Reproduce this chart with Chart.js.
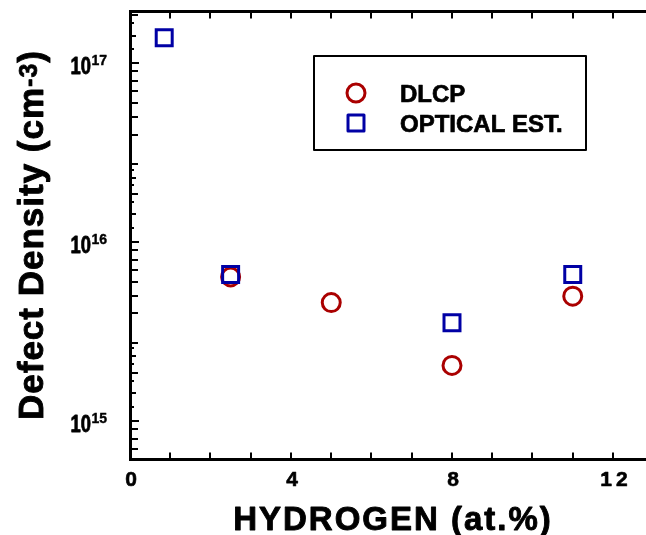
<!DOCTYPE html>
<html>
<head>
<meta charset="utf-8">
<script src="https://cdn.jsdelivr.net/npm/chart.js@4"></script>
<style>
  html, body { margin: 0; padding: 0; background: #fff; overflow: hidden; }
  canvas { display: block; }
</style>
</head>
<body>
<canvas id="defectChart" width="646" height="535"></canvas>
<script>
// values
const dlcpHydrogen = [2.5, 5.0, 8.0, 11.0];
const dlcpDensity = [6.4e15, 4.6e15, 2.05e15, 5.0e15];
const opticalHydrogen = [0.85, 2.5, 8.0, 11.0];
const opticalDensity = [1.39e17, 6.6e15, 3.55e15, 6.6e15];

const xTickLabels = [0, 4, 8, 12];
const yDecades = [15, 16, 17];
// minor tick multipliers inside each decade, as drawn in the original
const yMinorSteps = [1.2, 1.43, 1.67, 1.85, 2.1, 2.3, 2.55, 2.75, 4, 5, 6, 7, 8, 9];

const xMin = 0, xMax = 12.82;
const yMin = 6.15e14, yMax = 1.96e17;

const FONT = '"Liberation Sans", Arial, Helvetica, sans-serif';
const RED = 'rgb(170, 0, 0)';
const BLUE = 'rgb(0, 0, 165)';

function toPoints(xs, ys) {
  return xs.map((x, i) => ({ x: x, y: ys[i] }));
}

// tick length by position in yMinorSteps (short / medium / long)
function minorLength(i) {
  if (i >= 8) return 6;
  return [2, 4, 2, 6, 2, 4, 2, 6][i];
}

// bold text with a thin outline so it reads as heavy as the original
function heavyText(ctx, text, x, y, weight) {
  ctx.fillText(text, x, y);
  if (weight) {
    ctx.lineWidth = weight;
    ctx.strokeStyle = ctx.fillStyle;
    ctx.lineJoin = 'round';
    ctx.strokeText(text, x, y);
  }
}

const axesPlugin = {
  id: 'axesPlugin',
  beforeDatasetsDraw(chart) {
    const { ctx, chartArea: a, scales: { x, y } } = chart;
    const left = Math.round(a.left) + 0.5;
    const top = Math.round(a.top) + 0.5;
    const bottom = Math.round(a.bottom) + 0.5;
    ctx.save();
    ctx.strokeStyle = '#000';
    ctx.lineWidth = 2;

    // x ticks every unit, on bottom and top
    for (let v = Math.ceil(xMin); v <= xMax; v++) {
      const px = Math.round(x.getPixelForValue(v));
      ctx.beginPath();
      ctx.moveTo(px, bottom); ctx.lineTo(px, bottom - 7);
      ctx.moveTo(px, top); ctx.lineTo(px, top + 7);
      ctx.stroke();
    }

    // y ticks on the left
    const yTick = (val, len) => {
      if (val < yMin || val > yMax) return;
      const py = Math.round(y.getPixelForValue(val));
      ctx.beginPath();
      ctx.moveTo(left, py); ctx.lineTo(left + 1.5 + len, py);
      ctx.stroke();
    };
    for (let d = yDecades[0] - 1; d <= yDecades[yDecades.length - 1]; d++) {
      const major = Math.pow(10, d);
      yTick(major, 7);
      yMinorSteps.forEach((m, i) => yTick(m * major, minorLength(i)));
    }

    // frame: left, bottom and top (right side runs off the picture)
    ctx.lineWidth = 3;
    ctx.beginPath();
    ctx.moveTo(left, top - 1.5); ctx.lineTo(left, bottom + 1.5);
    ctx.moveTo(left - 1.5, bottom); ctx.lineTo(a.right + 2, bottom);
    ctx.moveTo(left - 1.5, top); ctx.lineTo(a.right + 2, top);
    ctx.stroke();
    ctx.restore();
  },
  afterDraw(chart) {
    const { ctx, chartArea: a, scales: { x, y } } = chart;
    ctx.save();
    ctx.fillStyle = '#000';
    ctx.textBaseline = 'alphabetic';

    // x tick labels
    ctx.font = `bold 21px ${FONT}`;
    ctx.textAlign = 'left';
    ctx.letterSpacing = '4px';
    xTickLabels.forEach(v => {
      const s = String(v);
      const w = ctx.measureText(s).width - 4;
      heavyText(ctx, s, x.getPixelForValue(v) + 1 - w / 2, a.bottom + 27, 0.6);
    });
    ctx.letterSpacing = '0px';

    // y tick labels: 10 with superscript exponent
    yDecades.forEach(d => {
      const py = y.getPixelForValue(Math.pow(10, d));
      const right = a.left - 23;
      ctx.font = `bold 14px ${FONT}`;
      const supW = ctx.measureText(String(d)).width;
      heavyText(ctx, String(d), right - supW, py + 2, 0.4);
      ctx.font = `bold 23px ${FONT}`;
      const baseW = ctx.measureText('10').width * 0.8;
      ctx.save();
      ctx.translate(right - supW - baseW - 0.5, py + 10.5);
      ctx.scale(0.8, 1);
      heavyText(ctx, '10', 0, 0, 0.8);
      ctx.restore();
    });

    // x axis title
    ctx.font = `bold 33px ${FONT}`;
    ctx.letterSpacing = '2px';
    const xtW = ctx.measureText('HYDROGEN (at.%)').width - 2;
    heavyText(ctx, 'HYDROGEN (at.%)', 392 - xtW / 2, 530, 0.9);
    ctx.letterSpacing = '0px';

    // y axis title, rotated, with superscript
    ctx.save();
    ctx.translate(43, (a.top + a.bottom) / 2);
    ctx.rotate(-Math.PI / 2);
    ctx.letterSpacing = '1px';
    const mainFont = `bold 35px ${FONT}`;
    const supFont = `bold 25px ${FONT}`;
    ctx.font = mainFont;
    const w1 = ctx.measureText('Defect Density (cm').width;
    const w3 = ctx.measureText(')').width;
    ctx.font = supFont;
    const w2 = ctx.measureText('-3').width;
    let tx = -(w1 + w2 + w3) / 2;
    ctx.font = mainFont;
    heavyText(ctx, 'Defect Density (cm', tx, 0, 0.9);
    tx += w1;
    ctx.font = supFont;
    heavyText(ctx, '-3', tx, -6, 0.7);
    tx += w2;
    ctx.font = mainFont;
    heavyText(ctx, ')', tx, 0, 0.9);
    ctx.restore();

    // legend box
    const lx = 314, ly = 56, lw = 272, lh = 94;
    ctx.strokeStyle = '#000';
    ctx.lineWidth = 2;
    ctx.strokeRect(lx, ly, lw, lh);
    chart.data.datasets.forEach((ds, i) => {
      const cy = ly + 37 + i * 30;
      ctx.strokeStyle = ds.borderColor;
      ctx.fillStyle = 'rgba(0,0,0,0)';
      ctx.lineWidth = ds.pointBorderWidth;
      Chart.helpers.drawPoint(ctx, {
        pointStyle: ds.pointStyle,
        radius: ds.pointRadius,
        rotation: 0,
        borderWidth: ds.pointBorderWidth
      }, lx + 42, cy);
      ctx.fillStyle = '#000';
      ctx.font = `bold 24px ${FONT}`;
      heavyText(ctx, ds.label, lx + 86, cy + 9, 0.7);
    });
    ctx.restore();
  }
};

const ctx = document.getElementById('defectChart').getContext('2d');
new Chart(ctx, {
  type: 'scatter',
  data: {
    datasets: [
      {
        label: 'DLCP',
        data: toPoints(dlcpHydrogen, dlcpDensity),
        pointStyle: 'circle',
        pointRadius: 9,
        pointBorderWidth: 3,
        borderColor: RED,
        pointBorderColor: RED,
        backgroundColor: 'rgba(0,0,0,0)',
        pointBackgroundColor: 'rgba(0,0,0,0)',
        order: 1
      },
      {
        label: 'OPTICAL EST.',
        data: toPoints(opticalHydrogen, opticalDensity),
        pointStyle: 'rect',
        pointRadius: 11.3,
        pointBorderWidth: 3,
        borderColor: BLUE,
        pointBorderColor: BLUE,
        backgroundColor: 'rgba(0,0,0,0)',
        pointBackgroundColor: 'rgba(0,0,0,0)',
        order: 0
      }
    ]
  },
  options: {
    responsive: false,
    animation: false,
    layout: {
      autoPadding: false,
      padding: { left: 130, top: 11, right: 0, bottom: 76 }
    },
    plugins: {
      legend: { display: false },
      tooltip: { enabled: false }
    },
    scales: {
      x: { type: 'linear', min: xMin, max: xMax, display: false },
      y: { type: 'logarithmic', min: yMin, max: yMax, display: false }
    }
  },
  plugins: [axesPlugin]
});
</script>
</body>
</html>
